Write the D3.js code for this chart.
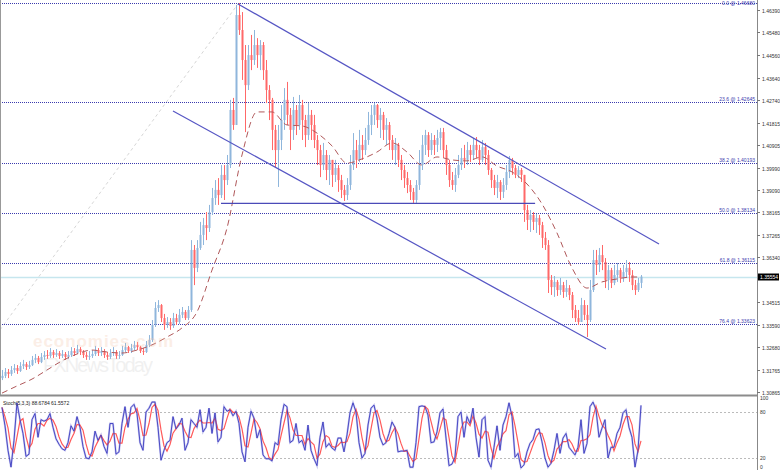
<!DOCTYPE html>
<html><head><meta charset="utf-8">
<script src="https://cdn.jsdelivr.net/npm/d3@7"></script>
<style>
body{margin:0;background:#fff}
svg{display:block}
text{font-family:"Liberation Sans",Arial,sans-serif}
</style>
</head><body>
<svg id="c" width="780" height="470"></svg>
<script>
// ---------- DATA ----------
const firstOpen = 1.3143;
const close = [
1.3152,1.3168,1.3160,1.3176,1.3184,1.3172,1.3192,1.3200,1.3188,1.3196,
1.3217,1.3225,1.3208,1.3229,1.3237,1.3233,1.3249,1.3237,1.3245,1.3233,
1.3241,1.3229,1.3237,1.3253,1.3245,1.3261,1.3249,1.3237,1.3229,1.3233,
1.3241,1.3257,1.3245,1.3253,1.3237,1.3229,1.3245,1.3249,1.3233,1.3237,
1.3257,1.3269,1.3253,1.3265,1.3278,1.3269,1.3253,1.3249,1.3278,1.3298,
1.3359,1.3428,1.3440,1.3387,1.3359,1.3371,1.3355,1.3387,1.3371,1.3400,
1.3412,1.3387,1.3420,1.3664,1.3591,1.3672,1.3725,1.3765,1.3753,1.3818,
1.3875,1.3908,1.3887,1.3969,1.3948,1.4009,1.4233,1.4172,1.4619,1.4558,
1.4436,1.4334,1.4456,1.4436,1.4497,1.4456,1.4497,1.4395,1.4314,1.4274,
1.4152,1.4070,1.4111,1.4192,1.4274,1.4213,1.4152,1.4233,1.4172,1.4253,
1.4192,1.4131,1.4213,1.4172,1.4111,1.4070,1.4009,1.4050,1.3989,1.4030,
1.3969,1.3997,1.3948,1.3908,1.3887,1.3928,1.4009,1.4070,1.4030,1.4091,
1.4070,1.4111,1.4172,1.4213,1.4253,1.4192,1.4213,1.4152,1.4172,1.4111,
1.4070,1.4091,1.4030,1.3989,1.3956,1.3928,1.3900,1.3867,1.3928,1.4009,
1.4091,1.4131,1.4070,1.4111,1.4091,1.4119,1.4143,1.4070,1.4009,1.3948,
1.3928,1.3969,1.4009,1.4038,1.4030,1.4070,1.4050,1.4091,1.4070,1.4030,
1.4082,1.4050,1.3989,1.3948,1.3916,1.3940,1.3900,1.3928,1.3981,1.4030,
1.3997,1.3969,1.3989,1.3969,1.3826,1.3786,1.3806,1.3778,1.3794,1.3765,
1.3713,1.3684,1.3542,1.3513,1.3534,1.3501,1.3521,1.3493,1.3509,1.3481,
1.3420,1.3387,1.3371,1.3440,1.3400,1.3379,1.3501,1.3623,1.3603,1.3643,
1.3615,1.3542,1.3582,1.3530,1.3562,1.3582,1.3550,1.3574,1.3591,1.3562,
1.3521,1.3501,1.3530,1.35554];
const high = [
1.3176,1.3184,1.3180,1.3192,1.3200,1.3196,1.3208,1.3217,1.3208,1.3213,
1.3233,1.3241,1.3233,1.3245,1.3253,1.3257,1.3265,1.3257,1.3261,1.3253,
1.3257,1.3249,1.3253,1.3269,1.3265,1.3278,1.3269,1.3257,1.3249,1.3253,
1.3257,1.3274,1.3265,1.3269,1.3261,1.3249,1.3261,1.3269,1.3257,1.3253,
1.3274,1.3286,1.3274,1.3282,1.3294,1.3290,1.3274,1.3265,1.3294,1.3318,
1.3379,1.3452,1.3460,1.3444,1.3404,1.3391,1.3387,1.3408,1.3404,1.3424,
1.3432,1.3420,1.3436,1.3704,1.3684,1.3704,1.3778,1.3794,1.3818,1.3847,
1.3916,1.3948,1.3956,1.4009,1.4009,1.4050,1.4274,1.4282,1.4660,1.4668,
1.4631,1.4497,1.4497,1.4538,1.4558,1.4525,1.4517,1.4509,1.4436,1.4334,
1.4282,1.4172,1.4172,1.4253,1.4322,1.4347,1.4241,1.4286,1.4253,1.4294,
1.4274,1.4213,1.4261,1.4233,1.4213,1.4131,1.4091,1.4099,1.4070,1.4050,
1.4030,1.4030,1.4009,1.3969,1.3928,1.3956,1.4050,1.4139,1.4111,1.4152,
1.4131,1.4160,1.4225,1.4253,1.4261,1.4257,1.4241,1.4225,1.4200,1.4184,
1.4131,1.4119,1.4099,1.4050,1.4009,1.3981,1.3948,1.3916,1.3948,1.4070,
1.4131,1.4152,1.4143,1.4139,1.4131,1.4152,1.4160,1.4160,1.4091,1.4030,
1.3981,1.3997,1.4050,1.4078,1.4091,1.4103,1.4091,1.4119,1.4123,1.4091,
1.4111,1.4099,1.4070,1.3997,1.3969,1.3969,1.3948,1.3956,1.4009,1.4046,
1.4038,1.4009,1.4005,1.3997,1.3969,1.3847,1.3826,1.3818,1.3810,1.3806,
1.3778,1.3737,1.3704,1.3562,1.3558,1.3542,1.3550,1.3534,1.3542,1.3521,
1.3493,1.3440,1.3420,1.3469,1.3460,1.3440,1.3542,1.3664,1.3664,1.3672,
1.3684,1.3631,1.3603,1.3591,1.3603,1.3611,1.3591,1.3603,1.3623,1.3615,
1.3582,1.3542,1.3550,1.3562];
const low = [
1.3135,1.3143,1.3143,1.3152,1.3164,1.3160,1.3168,1.3180,1.3176,1.3180,
1.3192,1.3204,1.3200,1.3204,1.3217,1.3221,1.3225,1.3225,1.3229,1.3221,
1.3225,1.3217,1.3221,1.3229,1.3233,1.3241,1.3237,1.3225,1.3217,1.3217,
1.3225,1.3233,1.3233,1.3233,1.3225,1.3217,1.3221,1.3233,1.3221,1.3221,
1.3233,1.3249,1.3245,1.3245,1.3257,1.3257,1.3245,1.3237,1.3245,1.3269,
1.3290,1.3351,1.3412,1.3371,1.3339,1.3347,1.3339,1.3347,1.3359,1.3363,
1.3387,1.3379,1.3379,1.3412,1.3521,1.3574,1.3664,1.3684,1.3704,1.3737,
1.3806,1.3847,1.3847,1.3875,1.3867,1.3928,1.3997,1.4152,1.4172,1.4538,
1.4355,1.4143,1.4314,1.4395,1.4416,1.4404,1.4395,1.4355,1.4261,1.4192,
1.4070,1.4001,1.3920,1.4070,1.4152,1.4172,1.4070,1.4111,1.4131,1.4152,
1.4111,1.4082,1.4111,1.4111,1.4078,1.4009,1.3960,1.3989,1.3948,1.3928,
1.3920,1.3940,1.3900,1.3875,1.3863,1.3867,1.3908,1.3989,1.3997,1.4021,
1.4030,1.4050,1.4091,1.4131,1.4172,1.4160,1.4119,1.4111,1.4091,1.4070,
1.4030,1.4009,1.4001,1.3948,1.3916,1.3895,1.3867,1.3855,1.3855,1.3908,
1.3989,1.4050,1.4042,1.4050,1.4050,1.4062,1.4070,1.4038,1.3969,1.3920,
1.3908,1.3900,1.3956,1.3989,1.3997,1.4009,1.4021,1.4030,1.4038,1.4009,
1.4021,1.4009,1.3969,1.3916,1.3887,1.3875,1.3867,1.3875,1.3908,1.3956,
1.3969,1.3956,1.3956,1.3940,1.3778,1.3745,1.3737,1.3745,1.3733,1.3725,
1.3672,1.3664,1.3489,1.3481,1.3473,1.3477,1.3481,1.3469,1.3473,1.3460,
1.3387,1.3371,1.3359,1.3371,1.3379,1.3310,1.3371,1.3493,1.3562,1.3574,
1.3582,1.3509,1.3501,1.3509,1.3521,1.3534,1.3530,1.3534,1.3550,1.3534,
1.3501,1.3481,1.3493,1.3509];

const maBar = [0,5,10,15,20,25,30,35,40,45,50,55,60,65,70,75,80,85,90,95,100,105,110,115,120,125,130,135,140,145,150,155,160,165,170,175,180,185,190,195,200,205,210,213];
const maValue = [1.3082,1.3111,1.3139,1.3176,1.3213,1.3241,1.3257,1.3249,1.3245,1.3257,1.3278,1.3310,1.3347,1.3412,1.3582,1.3753,1.4050,1.4225,1.4225,1.4172,1.4168,1.4139,1.4087,1.4017,1.4034,1.4062,1.4099,1.4062,1.4009,1.4042,1.4030,1.4026,1.4042,1.4005,1.3981,1.3932,1.3851,1.3733,1.3591,1.3509,1.3534,1.3546,1.3554,1.3554];

const stochK = [
86,62,30,8,43,92,70,52,22,25,
70,78,47,70,68,70,78,60,45,38,
32,30,40,62,55,74,60,35,20,19,
28,55,43,50,35,26,65,65,25,28,
65,87,60,86,90,78,40,30,80,85,
93,93,60,17,30,40,43,74,58,63,
72,30,40,70,65,60,83,54,60,85,
52,79,41,47,87,81,83,75,81,65,
28,15,60,81,72,46,57,24,19,19,
16,40,37,70,90,87,40,43,65,40,
43,30,63,30,19,10,47,67,34,39,
33,30,46,46,28,50,79,92,80,40,
20,26,63,85,89,72,47,37,40,52,
67,60,28,29,29,30,8,8,40,87,
88,87,76,40,41,54,79,84,46,10,
12,21,74,80,47,74,65,85,47,21,
70,74,17,8,34,62,30,63,74,92,
74,21,26,7,11,28,39,44,57,58,
41,20,8,13,30,52,26,46,52,34,
29,24,34,70,26,39,87,93,83,47,
59,70,20,34,34,52,60,79,83,60,
47,8,30,88.68];
const stochLabel = "Stoch(5,3,3) 88.6784 61.5572";
const stochLevels = [80, 20];
const stochTicks = [100, 80, 20, 0];

const priceTicks = [1.46390,1.45480,1.44560,1.43640,1.42740,1.41815,1.40905,1.39990,1.39090,1.38165,1.37265,1.36340,1.34515,1.33590,1.32680,1.31765,1.30865];
const fibLevels = [0.0, 23.6, 38.2, 50.0, 61.8, 76.4];
const fibPrices = [1.46680, 1.42645, 1.40193, 1.38134, 1.36115, 1.33623];
const lastPrice = 1.35554;

const upperChannelBars = [78.67, 219];
const upperChannelPrices = [1.4664, 1.3688];
const lowerChannelBars = [57, 201.33];
const lowerChannelPrices = [1.4229, 1.3261];
const supportBars = [73, 177.7];
const supportPrices = [1.3853, 1.3853];
const fibTrendBars = [-0.67, 78.67];
const fibTrendPrices = [1.3339, 1.4664];

// ---------- CHART ----------
const svg = d3.select('#c');
const plotR = 757, mainB = 395;
const N = close.length;
const x = d3.scaleLinear().domain([0, N - 1]).range([2, 641]);
const y = d3.scaleLinear().domain([1.4680, 1.30743]).range([0, mainB]);
const ys = d3.scaleLinear().domain([0, 100]).range([473.3, 396.7]);

const defs = svg.append('defs');
defs.append('clipPath').attr('id','mainClip').append('rect').attr('x',0).attr('y',0).attr('width',plotR).attr('height',mainB);
defs.append('clipPath').attr('id','stClip').append('rect').attr('x',0).attr('y',397).attr('width',plotR).attr('height',73);

const main = svg.append('g').attr('clip-path','url(#mainClip)');

// current price line
main.append('line').attr('x1',0).attr('x2',plotR)
  .attr('y1',Math.round(y(lastPrice))+0.5).attr('y2',Math.round(y(lastPrice))+0.5)
  .attr('stroke','#c6e6ee').attr('stroke-width',1.5);

// fib diagonal (faint)
const line2 = (bars, prices) => d3.line().x(d=>x(d[0])).y(d=>y(d[1]))(bars.map((b,i)=>[b,prices[i]]));
main.append('path').attr('d', line2(fibTrendBars, fibTrendPrices))
  .attr('stroke','#d6d6d6').attr('stroke-dasharray','3,3').attr('fill','none');

// fib levels
fibPrices.forEach((p,i)=>{
  const yy = Math.round(y(p))+0.5;
  main.append('line').attr('x1',0).attr('x2',plotR).attr('y1',yy).attr('y2',yy)
    .attr('stroke','#3a3aae').attr('stroke-width',1).attr('stroke-dasharray','1,1');
  main.append('text').attr('x',755).attr('y',Math.max(5, yy-1.5)).attr('text-anchor','end')
    .attr('font-size',5).attr('fill','#3a3aae')
    .text(fibLevels[i].toFixed(1)+' @ '+p.toFixed(5));
});

// candles
const candles = main.append('g');
close.forEach((c,i)=>{
  const o = i===0 ? firstOpen : close[i-1];
  const up = c >= o;
  const col = up ? '#8fb6dc' : '#ff6868';
  const cx = Math.round(x(i));
  candles.append('line').attr('x1',cx+0.5).attr('x2',cx+0.5)
    .attr('y1',y(high[i])).attr('y2',y(low[i])).attr('stroke',col).attr('stroke-width',1);
  const y0 = y(Math.max(o,c)), y1 = y(Math.min(o,c));
  candles.append('rect').attr('x',cx-0.5).attr('width',2)
    .attr('y',y0).attr('height',Math.max(1,y1-y0)).attr('fill',col);
});

// moving average (dashed)
main.append('path')
  .attr('d', d3.line().curve(d3.curveMonotoneX).x((d,i)=>x(maBar[i])).y(d=>y(d))(maValue))
  .attr('fill','none').attr('stroke','#b0585a').attr('stroke-width',1)
  .attr('stroke-dasharray','6,4');

// channel lines
main.append('path').attr('d', line2(upperChannelBars, upperChannelPrices))
  .attr('stroke','#5656c4').attr('stroke-width',1.2).attr('fill','none');
main.append('path').attr('d', line2(lowerChannelBars, lowerChannelPrices))
  .attr('stroke','#5656c4').attr('stroke-width',1.2).attr('fill','none');
main.append('path').attr('d', line2(supportBars, supportPrices))
  .attr('stroke','#4a4ab8').attr('stroke-width',1.2).attr('fill','none');

// watermark
main.append('text').attr('x',33).attr('y',347).attr('font-size',17).attr('font-weight','bold')
  .attr('textLength',140).attr('fill','#f4c4a8').attr('opacity',0.28).text('economies.com');
main.append('text').attr('x',43).attr('y',372).attr('font-size',20)
  .attr('textLength',110).attr('fill','#b8b8b8').attr('opacity',0.2).text('FXNewsToday');

// left border
svg.append('line').attr('x1',0.5).attr('x2',0.5).attr('y1',0).attr('y2',mainB).attr('stroke','#999');

// stochastic panel
const st = svg.append('g').attr('clip-path','url(#stClip)');
stochLevels.forEach(v=>{
  const yy = Math.round(ys(v))+0.5;
  st.append('line').attr('x1',0).attr('x2',plotR).attr('y1',yy).attr('y2',yy)
    .attr('stroke','#bbbbbb').attr('stroke-dasharray','2,2');
});
const stochD = stochK.map((v,i)=>{ const s = stochK.slice(Math.max(0,i-2), i+1); return d3.mean(s); });
const sl = d3.line().x((d,i)=>x(i)).y(d=>ys(d));
st.append('path').attr('d', sl(stochK)).attr('fill','none').attr('stroke','#8a8ae0').attr('stroke-width',2).attr('opacity',0.5);
st.append('path').attr('d', sl(stochD)).attr('fill','none').attr('stroke','#ff5a5a').attr('stroke-width',1.2);
st.append('path').attr('d', sl(stochK)).attr('fill','none').attr('stroke','#3c3cc0').attr('stroke-width',0.9);
svg.append('text').attr('x',3).attr('y',405).attr('font-size',5).attr('fill','#222').text(stochLabel);

// separator
svg.append('line').attr('x1',0).attr('x2',plotR).attr('y1',395.5).attr('y2',395.5).attr('stroke','#8c8c8c').attr('stroke-width',2);

// right axis
svg.append('line').attr('x1',plotR+0.5).attr('x2',plotR+0.5).attr('y1',0).attr('y2',470).attr('stroke','#888');
const ax = svg.append('g');
priceTicks.forEach(v=>{
  const yy = Math.round(y(v))+0.5;
  ax.append('line').attr('x1',plotR).attr('x2',plotR+3).attr('y1',yy).attr('y2',yy).attr('stroke','#777');
  ax.append('text').attr('x',plotR+5).attr('y',yy+2).attr('font-size',5).attr('fill','#333').text(v.toFixed(5));
});
const ly = Math.round(y(lastPrice));
ax.append('rect').attr('x',plotR+1).attr('y',ly-3.5).attr('width',21).attr('height',7).attr('fill','#000');
ax.append('text').attr('x',plotR+3).attr('y',ly+2).attr('font-size',5).attr('fill','#fff').text(lastPrice.toFixed(5));
stochTicks.forEach(v=>{
  const yy = Math.max(400, Math.min(469, ys(v)+2));
  ax.append('text').attr('x',plotR+3).attr('y',yy).attr('font-size',5).attr('fill','#333').text(v);
});
</script>
</body></html>
